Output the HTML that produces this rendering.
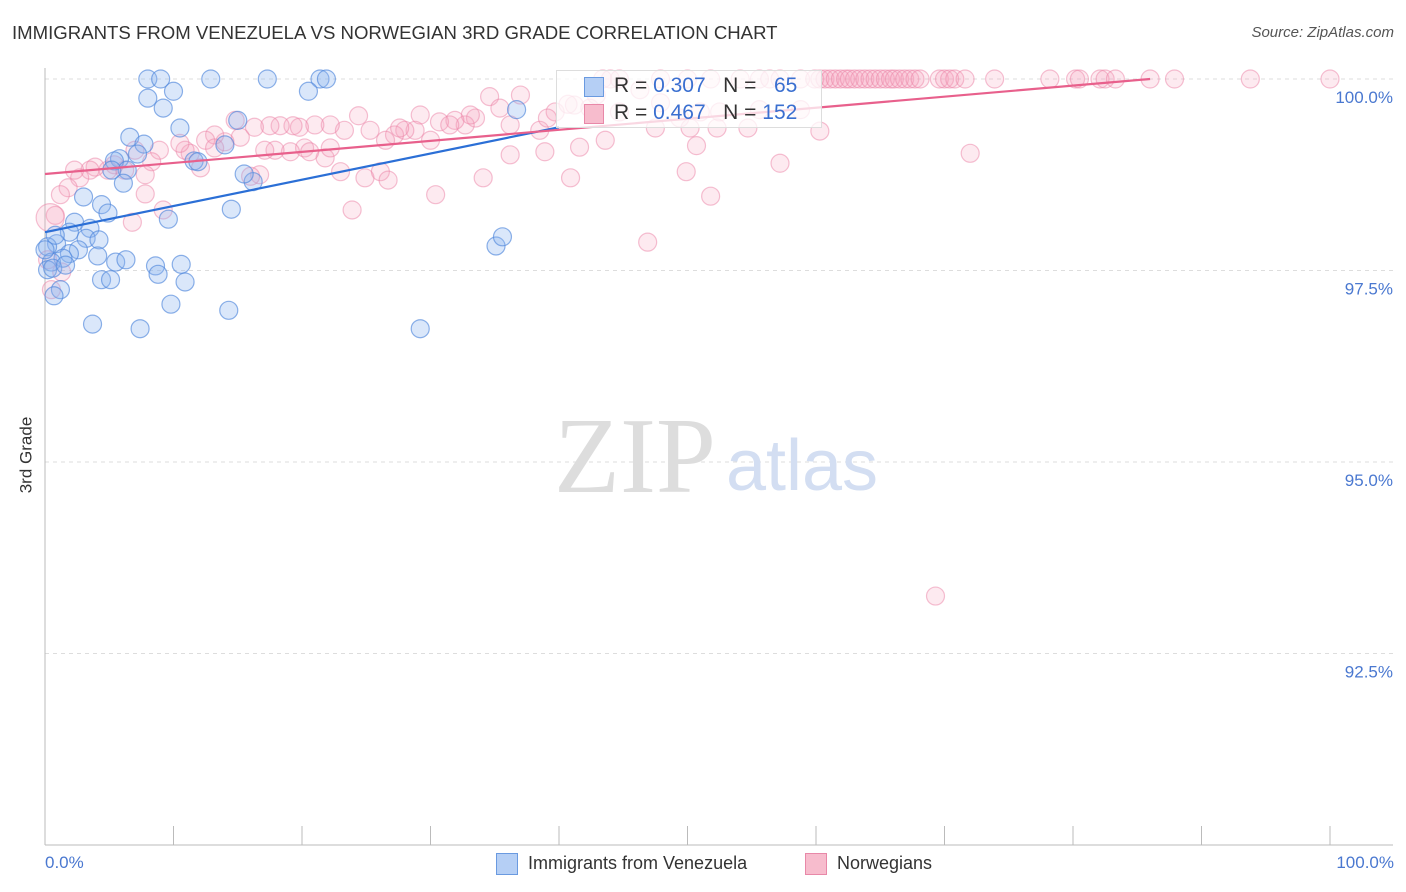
<!DOCTYPE html>
<html><head><meta charset="utf-8"><style>
body{margin:0;background:#fff;font-family:"Liberation Sans",sans-serif;}
#wrap{position:relative;width:1406px;height:892px;overflow:hidden;}
.t{position:absolute;white-space:nowrap;}
</style></head><body>
<div id="wrap">
<div class="t" style="left:12px;top:22px;font-size:18.6px;color:#333;">IMMIGRANTS FROM VENEZUELA VS NORWEGIAN 3RD GRADE CORRELATION CHART</div>
<div class="t" style="right:12px;top:24px;font-size:15px;color:#555;font-style:italic;">Source: ZipAtlas.com</div>
<svg id="svg" width="1406" height="892" style="position:absolute;left:0;top:0"></svg>
</div>
<script>
const xTickVals=[0,10,20,30,40,50,60,70,80,90,100];
const yTickVals=[100,97.5,95,92.5];
const yTickLabels=["100.0%","97.5%","95.0%","92.5%"];
const blueX=[8.0,9.0,12.9,17.3,21.4,21.9,8.0,10.0,20.5,9.2,15.0,10.5,6.6,7.7,5.8,5.4,7.2,11.6,6.4,6.1,16.2,3.0,4.4,4.9,14.5,9.6,2.3,3.5,1.9,3.2,4.2,0.9,0.2,2.6,1.9,1.4,4.1,0.5,5.5,6.3,8.6,10.6,8.8,4.4,5.1,10.9,1.2,0.7,9.8,14.3,3.7,7.4,29.2,35.1,35.6,36.7,15.5,0.2,0.6,11.9,14.0,0.8,0,1.6,5.2];
const blueY=[100,100,100,100,100,100,99.75,99.84,99.84,99.62,99.46,99.36,99.24,99.15,98.96,98.93,99.02,98.93,98.81,98.64,98.66,98.46,98.36,98.25,98.30,98.17,98.13,98.05,98.0,97.92,97.90,97.85,97.81,97.77,97.72,97.66,97.69,97.61,97.61,97.64,97.56,97.58,97.45,97.38,97.38,97.35,97.25,97.17,97.06,96.98,96.80,96.74,96.74,97.82,97.94,99.6,98.76,97.51,97.53,98.92,99.14,97.96,97.77,97.57,98.81];
const pinkTopX=[43.4,44.0,44.7,47.9,50.0,51.8,54.1,55.6,56.4,57.2,58.8,59.9,60.3,60.7,61.1,61.5,61.9,62.3,62.6,63.0,63.4,63.8,64.2,64.6,65.0,65.4,65.8,66.1,66.5,66.9,67.3,67.7,68.1,69.6,70.0,70.4,70.8,71.6,73.9,78.2,80.2,80.5,82.1,82.5,83.3,86.0,87.9,93.8,100];
const pinkX=[39.7,41.2,42.9,46.3,47.9,44.7,49.4,51.0,52.5,55.6,58.8,60.3,47.5,50.2,52.3,54.7,41.6,50.7,43.6,57.2,49.9,51.8,72.0,46.9,69.3,40.7,42.4,38.5,39.1,36.2,34.6,37.0,35.4,33.5,32.7,33.1,31.9,30.7,29.2,28.8,28.0,27.2,26.5,25.3,24.4,23.3,22.2,21.0,19.8,19.3,18.3,17.5,16.3,15.2,14.0,13.2,12.5,12.1,11.3,10.9,10.5,8.9,8.3,7.8,7.0,6.2,5.4,4.9,3.9,3.5,2.7,2.3,1.8,1.2,0.8,0.4,0.2,0.5,1.3,21.8,23.0,24.9,26.1,26.7,23.9,30.4,34.1,36.2,38.9,40.9,22.2,20.2,19.1,16.7,16.0,9.2,6.8,7.8,13.2,17.9,30.0,27.6,14.8,31.5,17.1,20.6];
const pinkY=[99.57,99.66,99.79,99.86,99.69,99.57,99.49,99.57,99.57,99.6,99.6,99.32,99.36,99.36,99.36,99.36,99.11,99.13,99.2,98.9,98.79,98.47,99.03,97.87,93.25,99.67,99.62,99.33,99.49,99.4,99.77,99.79,99.62,99.49,99.4,99.53,99.46,99.44,99.53,99.33,99.33,99.27,99.2,99.33,99.52,99.33,99.4,99.4,99.37,99.39,99.39,99.39,99.37,99.24,99.18,99.27,99.2,98.84,99.03,99.07,99.16,99.07,98.92,98.75,99.07,98.81,98.88,98.81,98.85,98.81,98.71,98.81,98.58,98.49,98.22,98.19,97.64,97.25,97.48,98.97,98.79,98.71,98.79,98.68,98.29,98.49,98.71,99.01,99.05,98.71,99.1,99.1,99.05,98.75,98.73,98.29,98.13,98.5,99.1,99.07,99.2,99.36,99.46,99.4,99.07,99.05];
const blueTrend=[[0,98.0],[40,99.37]];
const pinkTrend=[[0,98.76],[86,100]];

const X=v=>45+v*12.85;
const Y=v=>79+(100-v)*76.6;
const svg=document.getElementById('svg');
const NS='http://www.w3.org/2000/svg';
function mk(tag,attrs,parent){const e=document.createElementNS(NS,tag);for(const k in attrs)e.setAttribute(k,attrs[k]);(parent||svg).appendChild(e);return e;}

yTickVals.forEach((v,i)=>{
  const g=mk('line',{x1:45,x2:1393,y1:Y(v),y2:Y(v),stroke:'#ddd','stroke-dasharray':'4,4'});
  
  
  const t=mk('text',{x:1393,y:Y(v)+24,'text-anchor':'end','font-size':17,fill:'#4a78d0','font-family':'Liberation Sans, sans-serif'});
  t.textContent=yTickLabels[i];
  
  
});
const ax=mk('line',{x1:45,x2:45,y1:68,y2:845,stroke:'#bbb'});


const bx=mk('line',{x1:45,x2:1393,y1:845,y2:845,stroke:'#bbb'});


xTickVals.forEach(v=>{
  const l=mk('line',{x1:X(v),x2:X(v),y1:826,y2:845,stroke:'#bbb'});
  
  
});
const w1=mk('text',{x:635,y:492,'text-anchor':'middle','font-size':108,fill:'#ddd','font-family':'Liberation Serif, serif'});
w1.textContent='ZIP';


const w2=mk('text',{x:802,y:490,'text-anchor':'middle','font-size':72,fill:'#d3def2','font-family':'Liberation Sans, sans-serif'});
w2.textContent='atlas';



pinkTopX.forEach(x=>{
  const c=mk('circle',{cx:X(x),cy:Y(100),r:9,fill:'rgba(244,160,188,0.22)',stroke:'rgba(236,130,165,0.5)','stroke-width':1.2});
  
  
});
pinkX.forEach((x,i)=>{
  const c=mk('circle',{cx:X(x),cy:Y(pinkY[i]),r:(i===75?14:9),fill:'rgba(244,160,188,0.22)',stroke:'rgba(236,130,165,0.5)','stroke-width':1.2});
  
  
});
blueX.forEach((x,i)=>{
  const c=mk('circle',{cx:X(x),cy:Y(blueY[i]),r:9,fill:'rgba(140,180,240,0.32)',stroke:'rgba(80,135,220,0.65)','stroke-width':1.2});
  
  
});
const bl=mk('line',{x1:X(blueTrend[0][0]),y1:Y(blueTrend[0][1]),x2:X(blueTrend[1][0]),y2:Y(blueTrend[1][1]),stroke:'#2b6fd6','stroke-width':2.2});


const pl=mk('line',{x1:X(pinkTrend[0][0]),y1:Y(pinkTrend[0][1]),x2:X(pinkTrend[1][0]),y2:Y(pinkTrend[1][1]),stroke:'#e8608c','stroke-width':2.2});


</script>
<div class="t" style="left:-12px;top:445px;font-size:17px;color:#333;transform:rotate(-90deg);">3rd Grade</div>
<div class="t" style="left:45px;top:853px;font-size:17px;color:#4a78d0;">0.0%</div>
<div class="t" style="right:12px;top:853px;font-size:17px;color:#4a78d0;">100.0%</div>
<div style="position:absolute;left:556px;top:70px;width:264px;height:56px;background:rgba(255,255,255,0.75);border:1px solid #ddd;font-size:21px;">
 <div style="position:absolute;left:27px;top:6px;width:18px;height:18px;background:#b5cff5;border:1px solid #6a9ae0;"></div>
 <div class="t" style="left:57px;top:3px;color:#333;">R = <span style="color:#3a6fd0">0.307</span>&nbsp;&nbsp; N = &nbsp;&nbsp;<span style="color:#3a6fd0">65</span></div>
 <div style="position:absolute;left:27px;top:33px;width:18px;height:18px;background:#f7bccd;border:1px solid #e888a8;"></div>
 <div class="t" style="left:57px;top:30px;color:#333;">R = <span style="color:#3a6fd0">0.467</span>&nbsp;&nbsp; N = <span style="color:#3a6fd0">152</span></div>
</div>
<div style="position:absolute;left:496px;top:853px;width:20px;height:20px;background:#b5cff5;border:1px solid #6a9ae0;"></div>
<div class="t" style="left:528px;top:853px;font-size:18px;color:#333;">Immigrants from Venezuela</div>
<div style="position:absolute;left:805px;top:853px;width:20px;height:20px;background:#f7bccd;border:1px solid #e888a8;"></div>
<div class="t" style="left:837px;top:853px;font-size:18px;color:#333;">Norwegians</div>
</body></html>
